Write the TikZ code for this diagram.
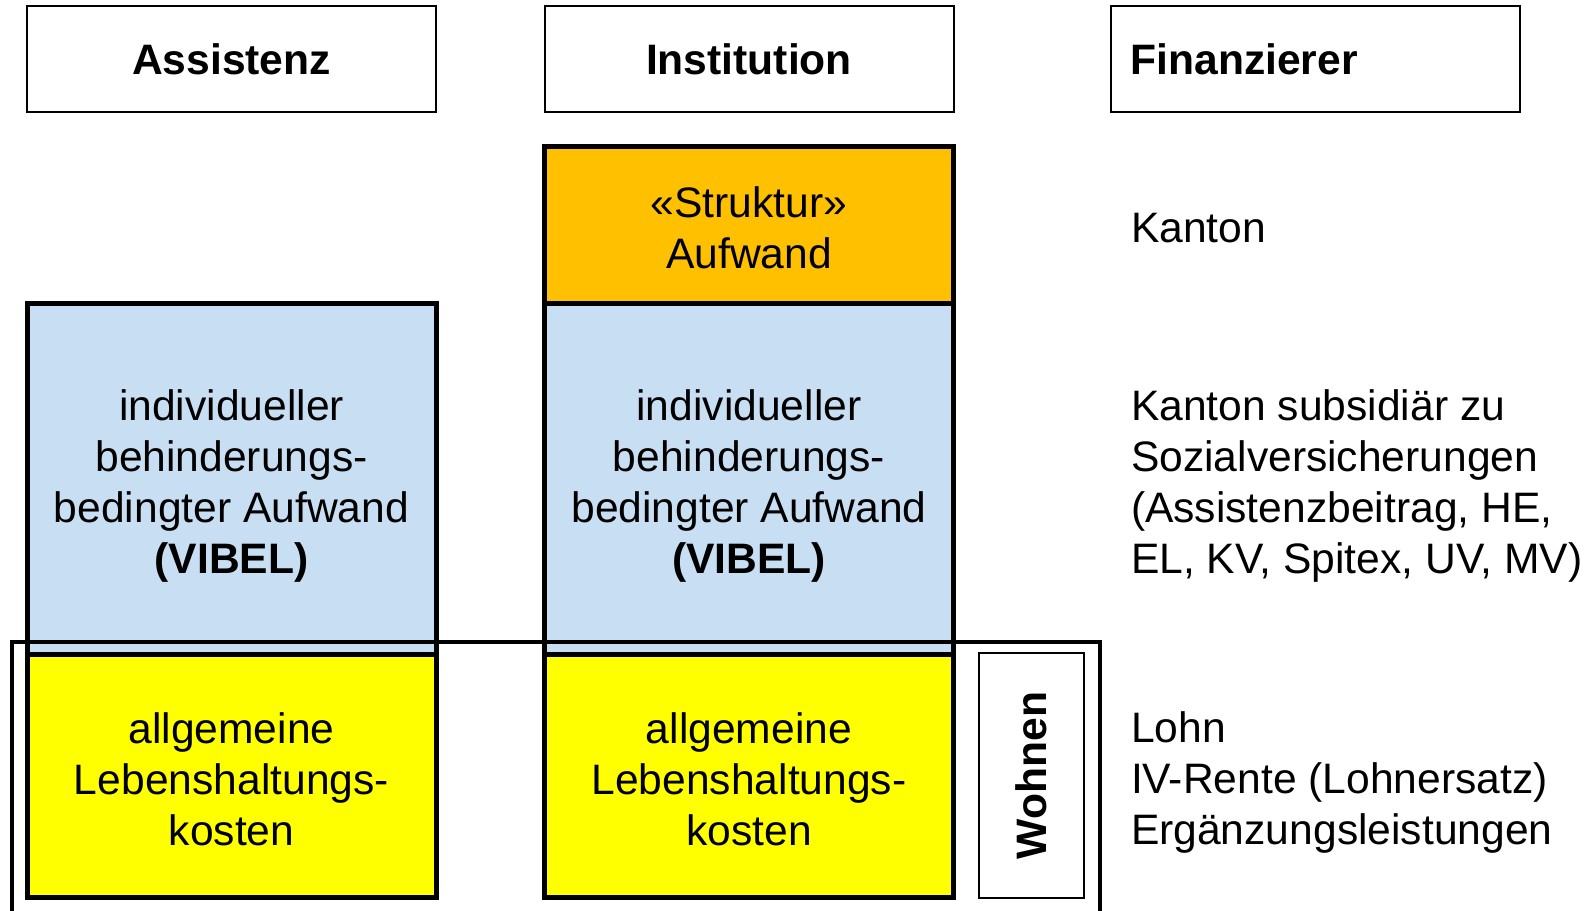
\documentclass[tikz,border=0pt]{standalone}
\usepackage{fontspec}
\setmainfont{Liberation Sans}
\usepackage{tikz}
\usetikzlibrary{positioning}
\definecolor{strukturorange}{HTML}{FFC000}
\definecolor{vibelblau}{HTML}{C8DFF3}
\definecolor{lebengelb}{HTML}{FFFF00}

\begin{document}
\begin{tikzpicture}[x=0.5pt,y=-0.5pt,
    font=\fontsize{21.3pt}{25.5pt}\selectfont,
    every node/.style={outer sep=0pt},
    kopf/.style={draw,line width=1pt,minimum width=204.5pt,minimum height=53pt,inner sep=0pt,
        font=\fontsize{21.3pt}{25.5pt}\selectfont\bfseries},
    spalte/.style={draw,line width=2.5pt,minimum width=204.5pt,inner sep=0pt},
    beschrift/.style={align=center,inner sep=0pt,yshift=-3.5pt},
    vibel/.style={spalte,fill=vibelblau,minimum height=175.5pt},
    leben/.style={spalte,fill=lebengelb,minimum height=121.5pt},
    quelle/.style={anchor=west,align=left,inner sep=0pt,yshift=-3.5pt}]

    \useasboundingbox (0,0) rectangle (1595,910);

    \node[kopf] (assistenz) at (231.5,59) {Assistenz};
    \node[kopf] (institution) at (749,59) {Institution};
    \node[kopf,text width=184.5pt,align=left] (finanzierer) at (1315,59) {Finanzierer};

    \node[spalte,fill=strukturorange,minimum height=78.5pt,
        label={[beschrift,yshift=2pt]center:«Struktur»\\Aufwand}] (struktur) at (749,224.5) {};
    \node[vibel,below=0pt of struktur,
        label={[beschrift]center:individueller\\behinderungs-\\bedingter Aufwand\\\textbf{(VIBEL)}}] (instvibel) {};
    \node[leben,below=0pt of instvibel,
        label={[beschrift,yshift=1.5pt]center:allgemeine\\Lebenshaltungs-\\kosten}] (instleben) {};

    \node[vibel,
        label={[beschrift]center:individueller\\behinderungs-\\bedingter Aufwand\\\textbf{(VIBEL)}}] (assvibel) at (instvibel -| assistenz) {};
    \node[leben,below=0pt of assvibel,
        label={[beschrift,yshift=1.5pt]center:allgemeine\\Lebenshaltungs-\\kosten}] (assleben) {};

    \draw[line width=2pt] (12,915) |- (1100,641.5) -- (1100,915);
    \node[draw,line width=1.2pt,minimum width=122.5pt,minimum height=52.5pt,rotate=90,
        font=\fontsize{21.3pt}{25.5pt}\selectfont\bfseries] (wohnen) at (1031.5,775.5) {Wohnen};

    \coordinate (quellex) at (1131,0);
    \node[quelle,yshift=1.5pt] (kanton) at (quellex |- struktur) {Kanton};
    \node[quelle] (subsidiaer) at (quellex |- instvibel) {Kanton subsidiär zu\\Sozialversicherungen\\(Assistenzbeitrag, HE,\\EL, KV, Spitex, UV, MV)};
    \node[quelle] (lohn) at (quellex |- instleben) {Lohn\\IV-Rente (Lohnersatz)\\Ergänzungsleistungen};
\end{tikzpicture}
\end{document}
